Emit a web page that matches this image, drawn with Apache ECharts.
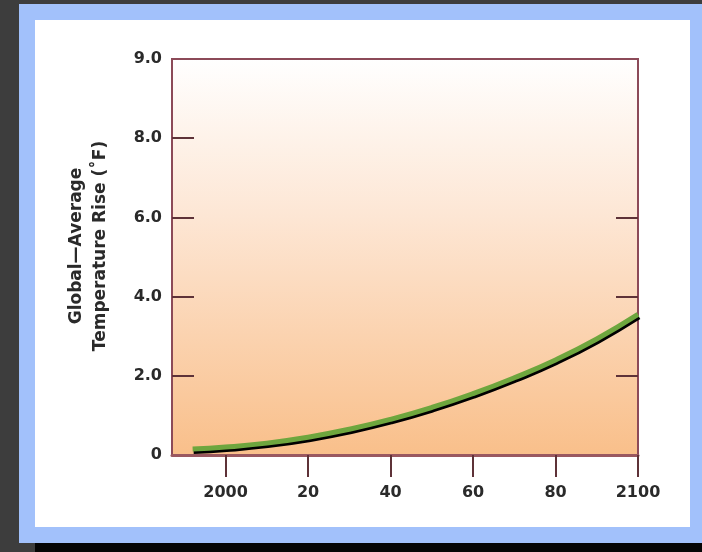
<!DOCTYPE html>
<html>
<head>
<meta charset="utf-8">
<script src="https://cdn.jsdelivr.net/npm/echarts@6/dist/echarts.min.js"></script>
<style>
  html, body { margin: 0; padding: 0; width: 702px; height: 552px; overflow: hidden; background: #3d3d3d; }
  #blue { position: absolute; left: 19px; top: 4px; width: 683px; height: 539px; background: #a2c1fb; }
  #white { position: absolute; left: 35px; top: 20px; width: 655px; height: 507px; background: #ffffff; }
  #black { position: absolute; left: 35px; top: 543px; width: 667px; height: 9px; background: #050505; }
  #chart { position: absolute; left: 0; top: 0; width: 702px; height: 552px; }
</style>
</head>
<body>
<div id="blue"></div>
<div id="white"></div>
<div id="black"></div>
<div id="chart"></div>
<script>
// Data
const years = [1992, 2000, 2010, 2020, 2030, 2040, 2050, 2060, 2070, 2080, 2090, 2100];
const tempRise = [0.15, 0.2, 0.3, 0.45, 0.65, 0.9, 1.2, 1.55, 1.95, 2.4, 2.93, 3.55];
const xTickValues = [2000, 2020, 2040, 2060, 2080, 2100];
const xTickLabels = ['2000', '20', '40', '60', '80', '2100'];
const yTickValues = [0, 2, 4, 6, 8, 10];
const yTickLabels = ['0', '2.0', '4.0', '6.0', '8.0', '9.0'];
const yNameLines = ['Global\u2014Average', 'Temperature Rise (\u02daF)'];

const chart = echarts.init(document.getElementById('chart'), null, { renderer: 'canvas' });
const points = years.map((y, i) => [y, tempRise[i]]);
const labelFont = { fontFamily: 'DejaVu Sans, Liberation Sans, sans-serif', fontWeight: 'bold', fontSize: 16, color: '#2a2a2a' };

chart.setOption({
  backgroundColor: 'transparent',
  animation: false,
  grid: {
    left: 172, top: 59, right: 64, bottom: 97,
    show: true,
    borderColor: '#8c4a58',
    borderWidth: 2,
    backgroundColor: new echarts.graphic.LinearGradient(0, 0, 0, 1, [
      { offset: 0, color: '#ffffff' },
      { offset: 0.4, color: '#fde6d4' },
      { offset: 1, color: '#f9bf8a' }
    ])
  },
  xAxis: {
    type: 'value', min: 1987, max: 2100,
    splitLine: { show: false },
    axisLine: { show: true, lineStyle: { color: '#9a5860', width: 3 } },
    axisTick: { show: true, inside: false, length: 22, customValues: xTickValues, lineStyle: { color: '#5e3238', width: 2 } },
    axisLabel: Object.assign({ customValues: xTickValues, margin: 30,
      formatter: v => xTickLabels[xTickValues.indexOf(v)] }, labelFont)
  },
  yAxis: [{
    type: 'value', min: 0, max: 10, interval: 2, position: 'left',
    splitLine: { show: false },
    axisLine: { show: true, lineStyle: { color: '#8c4a58', width: 2 } },
    axisTick: { show: true, inside: true, length: 22, customValues: [2, 4, 6, 8], lineStyle: { color: '#5e3238', width: 2 } },
    axisLabel: Object.assign({ margin: 10, customValues: yTickValues,
      formatter: v => yTickLabels[yTickValues.indexOf(v)] }, labelFont)
  }, {
    type: 'value', min: 0, max: 10, interval: 2, position: 'right',
    splitLine: { show: false },
    axisLine: { show: true, lineStyle: { color: '#8c4a58', width: 2 } },
    axisTick: { show: true, inside: true, length: 22, customValues: [2, 4, 6], lineStyle: { color: '#5e3238', width: 2 } },
    axisLabel: { show: false }
  }],
  graphic: [{
    type: 'text', x: 89, y: 246, rotation: Math.PI / 2,
    style: { text: yNameLines.join('\n'), x: 0, y: 0, align: 'center', verticalAlign: 'middle',
      fontFamily: 'DejaVu Sans, Liberation Sans, sans-serif', fontWeight: 'bold', fontSize: 17, lineHeight: 24, fill: '#2a2a2a' }
  }],
  series: [{
    type: 'line', data: points, smooth: true, symbol: 'none',
    lineStyle: { color: '#6ea63e', width: 5, shadowColor: '#000', shadowOffsetY: 2.5, shadowOffsetX: 1, shadowBlur: 0 },
    z: 5
  }]
});
</script>
</body>
</html>
